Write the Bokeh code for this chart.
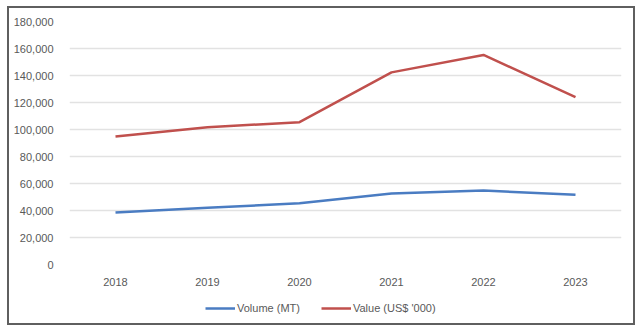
from bokeh.plotting import figure
from bokeh.layouts import column
from bokeh.models import FactorRange, Range1d, FixedTicker, NumeralTickFormatter, Legend, LegendItem, ColumnDataSource
from bokeh.embed import file_html
from bokeh.resources import INLINE

years = ["2018", "2019", "2020", "2021", "2022", "2023"]
volume_mt = [38500, 42000, 45300, 52600, 54800, 51600]
value_usd_000 = [94800, 101700, 105400, 142300, 155200, 123900]
y_ticks = [0, 20000, 40000, 60000, 80000, 100000, 120000, 140000, 160000, 180000]
series_names = ["Volume (MT)", "Value (US$ '000)"]
series_colors = ["#4a7cc2", "#c0504d"]

src = ColumnDataSource(dict(year=years, vol=volume_mt, val=value_usd_000))

p = figure(width=624, height=280, output_backend="svg", toolbar_location=None,
           x_range=FactorRange(*years, range_padding=0), y_range=Range1d(0, 180000),
           min_border_left=60, min_border_right=12, min_border_top=13, min_border_bottom=24)
p.outline_line_color = None
p.background_fill_color = "white"
p.border_fill_color = "white"

lab_font = "Liberation Sans"
lab_color = "#595959"

p.yaxis.ticker = FixedTicker(ticks=y_ticks)
p.yaxis.formatter = NumeralTickFormatter(format="0,0")
for ax in (p.xaxis[0], p.yaxis[0]):
    ax.axis_line_color = None
    ax.major_tick_line_color = None
    ax.minor_tick_line_color = None
    ax.major_label_text_font = lab_font
    ax.major_label_text_font_size = "11px"
    ax.major_label_text_color = lab_color
p.yaxis.major_label_standoff = 10
p.xaxis.major_label_standoff = 7

p.xgrid.grid_line_color = None
p.ygrid.grid_line_color = "#e2e2e2"
p.ygrid.grid_line_width = 1.5
p.ygrid.ticker = FixedTicker(ticks=y_ticks)

p.line("year", "vol", source=src, line_color=series_colors[0], line_width=2.5)
p.line("year", "val", source=src, line_color=series_colors[1], line_width=2.5)

# legend strip (same series, y range kept off the data so only the legend shows)
q = figure(width=624, height=35, output_backend="svg", toolbar_location=None,
           x_range=p.x_range, y_range=Range1d(0, 1), x_axis_type=None, y_axis_type=None,
           min_border_left=0, min_border_right=0, min_border_top=0, min_border_bottom=0)
q.outline_line_color = None
q.grid.visible = False
q.border_fill_color = "white"
l1 = q.line("year", "vol", source=src, line_color=series_colors[0], line_width=2.5)
l2 = q.line("year", "val", source=src, line_color=series_colors[1], line_width=2.5)
legend = Legend(items=[LegendItem(label=series_names[0], renderers=[l1]),
                       LegendItem(label=series_names[1], renderers=[l2])],
                orientation="horizontal", location=(136, 8),
                border_line_color=None, background_fill_alpha=0,
                padding=0, margin=0, spacing=21, label_standoff=2,
                glyph_width=30, glyph_height=14,
                label_text_font=lab_font, label_text_font_size="11px",
                label_text_color=lab_color)
q.add_layout(legend, "center")

layout = column(p, q, spacing=0)
layout.styles = {"margin-left": "7px", "margin-top": "6px", "border": "2px solid #5f5f5f",
                 "background-color": "white"}

open("out.html", "w").write(file_html(layout, INLINE))
